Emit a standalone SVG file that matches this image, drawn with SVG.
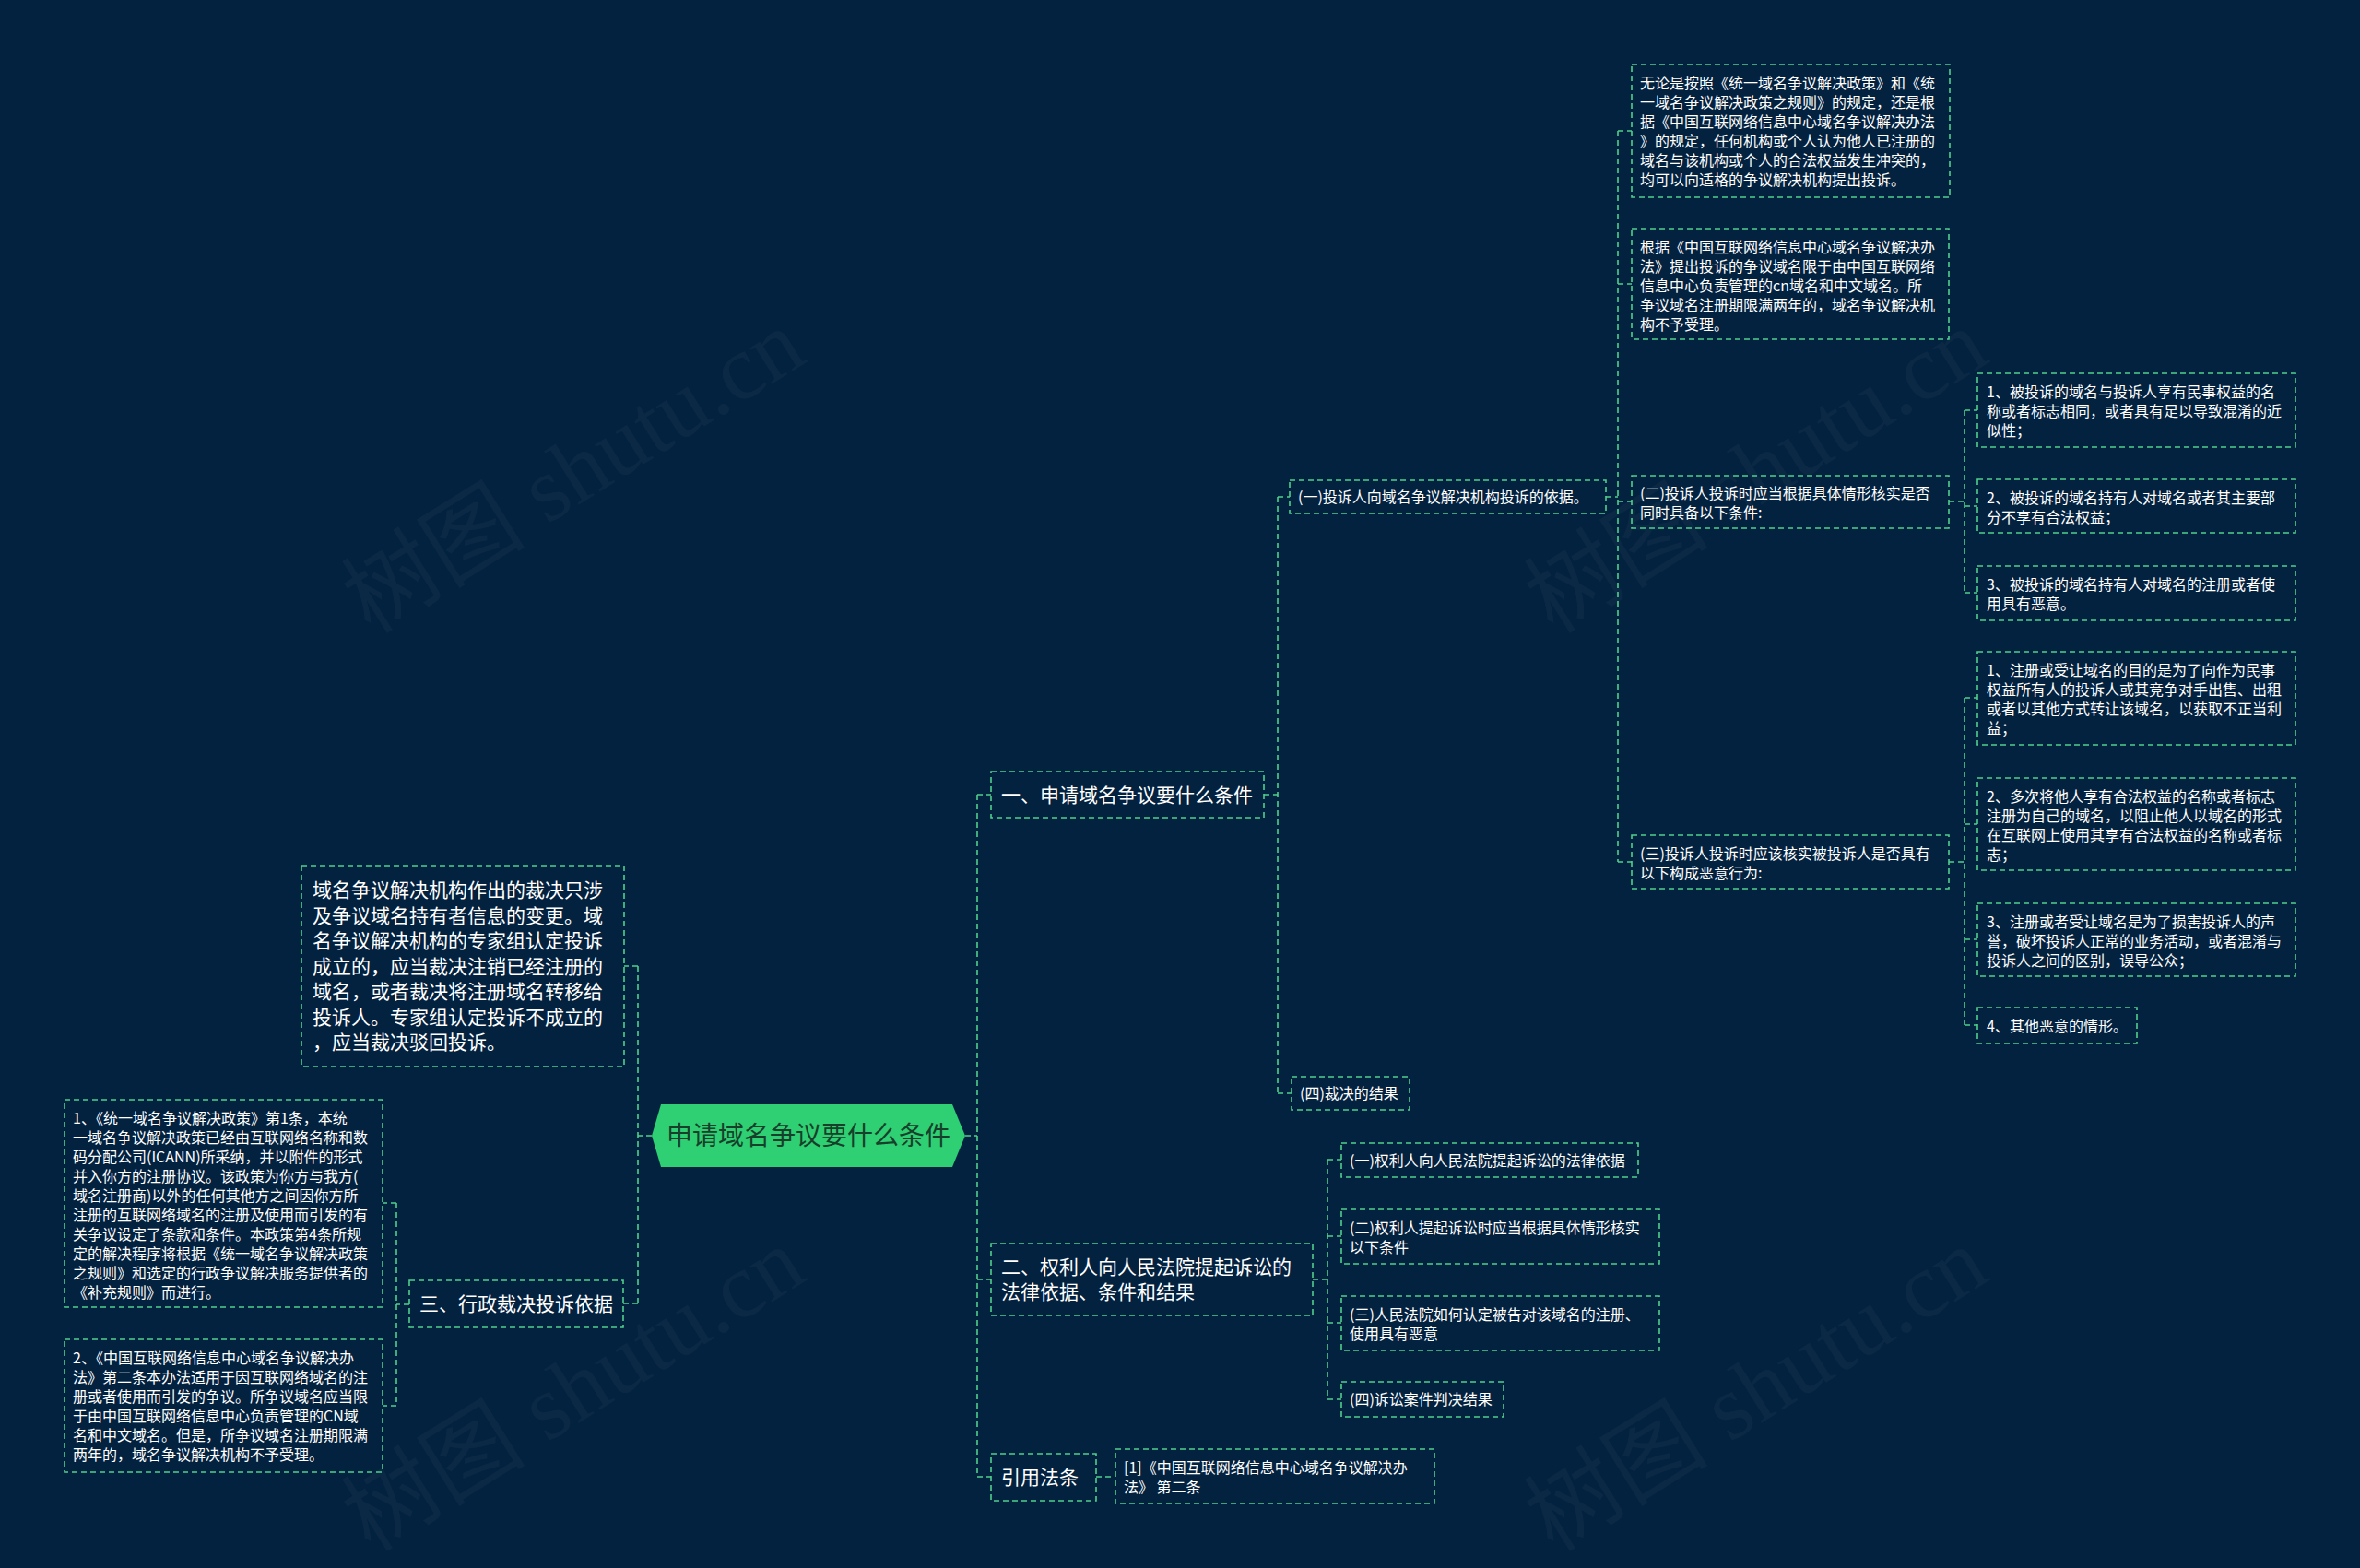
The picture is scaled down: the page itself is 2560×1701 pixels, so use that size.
<svg xmlns="http://www.w3.org/2000/svg" width="2560" height="1701" viewBox="0 0 2560 1701">
<defs>
<style>
.bg{fill:#03223f}
.box{fill:none;stroke:#4fd08c;stroke-width:1.6;stroke-dasharray:6 4}
.conn{fill:none;stroke:#4fd08c;stroke-width:1.6;stroke-dasharray:6 4}
.t16{font-family:"Noto Sans CJK SC","Noto Sans",sans-serif;font-size:16px;fill:#ffffff}
.t21{font-family:"Noto Sans CJK SC","Noto Sans",sans-serif;font-size:21px;fill:#ffffff}
.tc{font-family:"Noto Sans CJK SC","Noto Sans",sans-serif;font-size:28px;fill:#173f2a}
.wm{font-family:"Liberation Serif","Noto Sans CJK SC",serif;font-size:100px;fill:#ffffff;fill-opacity:0.035}
</style>
</defs>
<rect class="bg" x="0" y="0" width="2560" height="1701"/>
<g id="watermarks">
<text class="wm" text-anchor="middle" transform="translate(640,540) rotate(-32)">树图 shutu.cn</text>
<text class="wm" text-anchor="middle" transform="translate(1923,540) rotate(-32)">树图 shutu.cn</text>
<text class="wm" text-anchor="middle" transform="translate(640,1536) rotate(-32)">树图 shutu.cn</text>
<text class="wm" text-anchor="middle" transform="translate(1923,1536) rotate(-32)">树图 shutu.cn</text>
</g>
<g id="connectors">
<path class="conn" d="M1047 1232 H1060 M1060 862 V1602 M1060 862 H1075 M1060 1388 H1075 M1060 1602 H1075
M1371 862 H1386 M1386 539 V1186 M1386 539 H1399 M1386 1186 H1401
M1742 539 H1755 M1755 142 V935 M1755 142 H1770 M1755 308 H1770 M1755 544 H1770 M1755 935 H1770
M2114 544 H2131 M2131 445 V643 M2131 445 H2145 M2131 549 H2145 M2131 643 H2145
M2114 935 H2131 M2131 757 V1112 M2131 757 H2145 M2131 894 H2145 M2131 1019 H2145 M2131 1112 H2145
M1424 1388 H1440 M1440 1258 V1518 M1440 1258 H1455 M1440 1341 H1455 M1440 1435 H1455 M1440 1518 H1455
M1189 1602 H1210
M707 1232 H692 M692 1048 V1414 M692 1048 H677 M692 1414 H676
M444 1415 H430 M430 1305 V1525 M430 1305 H415 M430 1525 H415"/>
</g>
<g id="root">
<polygon points="707,1232 717,1198 1033,1198 1047,1232 1033,1266 717,1266" fill="#2fcf74"/>
<text class="tc" x="877" y="1242" text-anchor="middle">申请域名争议要什么条件</text>
</g>
<g id="n1">
<rect class="box" x="1075" y="837" width="296" height="50"/>
<text class="t21" x="1086" y="870">一、申请域名争议要什么条件</text>
</g>
<g id="n1-1">
<rect class="box" x="1399" y="521" width="343" height="36"/>
<text class="t16" x="1408" y="545">(一)投诉人向域名争议解决机构投诉的依据。</text>
</g>
<g id="n1-1-a">
<rect class="box" x="1770" y="70" width="345" height="144"/>
<text class="t16"><tspan x="1779" y="96">无论是按照《统一域名争议解决政策》和《统</tspan><tspan x="1779" y="117">一域名争议解决政策之规则》的规定，还是根</tspan><tspan x="1779" y="138">据《中国互联网络信息中心域名争议解决办法</tspan><tspan x="1779" y="159">》的规定，任何机构或个人认为他人已注册的</tspan><tspan x="1779" y="180">域名与该机构或个人的合法权益发生冲突的，</tspan><tspan x="1779" y="201">均可以向适格的争议解决机构提出投诉。</tspan></text>
</g>
<g id="n1-1-b">
<rect class="box" x="1770" y="248" width="344" height="120"/>
<text class="t16"><tspan x="1779" y="274">根据《中国互联网络信息中心域名争议解决办</tspan><tspan x="1779" y="295">法》提出投诉的争议域名限于由中国互联网络</tspan><tspan x="1779" y="316">信息中心负责管理的cn域名和中文域名。所</tspan><tspan x="1779" y="337">争议域名注册期限满两年的，域名争议解决机</tspan><tspan x="1779" y="358">构不予受理。</tspan></text>
</g>
<g id="n1-1-2">
<rect class="box" x="1770" y="516" width="344" height="57"/>
<text class="t16"><tspan x="1779" y="541">(二)投诉人投诉时应当根据具体情形核实是否</tspan><tspan x="1779" y="562">同时具备以下条件:</tspan></text>
</g>
<g id="n1-1-2-1">
<rect class="box" x="2145" y="405" width="345" height="80"/>
<text class="t16"><tspan x="2155" y="431">1、被投诉的域名与投诉人享有民事权益的名</tspan><tspan x="2155" y="452">称或者标志相同，或者具有足以导致混淆的近</tspan><tspan x="2155" y="473">似性；</tspan></text>
</g>
<g id="n1-1-2-2">
<rect class="box" x="2145" y="520" width="345" height="58"/>
<text class="t16"><tspan x="2155" y="546">2、被投诉的域名持有人对域名或者其主要部</tspan><tspan x="2155" y="567">分不享有合法权益；</tspan></text>
</g>
<g id="n1-1-2-3">
<rect class="box" x="2145" y="614" width="345" height="59"/>
<text class="t16"><tspan x="2155" y="640">3、被投诉的域名持有人对域名的注册或者使</tspan><tspan x="2155" y="661">用具有恶意。</tspan></text>
</g>
<g id="n1-1-3">
<rect class="box" x="1770" y="906" width="344" height="58"/>
<text class="t16"><tspan x="1779" y="932">(三)投诉人投诉时应该核实被投诉人是否具有</tspan><tspan x="1779" y="953">以下构成恶意行为:</tspan></text>
</g>
<g id="n1-1-3-1">
<rect class="box" x="2145" y="707" width="345" height="101"/>
<text class="t16"><tspan x="2155" y="733">1、注册或受让域名的目的是为了向作为民事</tspan><tspan x="2155" y="754">权益所有人的投诉人或其竞争对手出售、出租</tspan><tspan x="2155" y="775">或者以其他方式转让该域名，以获取不正当利</tspan><tspan x="2155" y="796">益；</tspan></text>
</g>
<g id="n1-1-3-2">
<rect class="box" x="2145" y="844" width="345" height="100"/>
<text class="t16"><tspan x="2155" y="870">2、多次将他人享有合法权益的名称或者标志</tspan><tspan x="2155" y="891">注册为自己的域名，以阻止他人以域名的形式</tspan><tspan x="2155" y="912">在互联网上使用其享有合法权益的名称或者标</tspan><tspan x="2155" y="933">志；</tspan></text>
</g>
<g id="n1-1-3-3">
<rect class="box" x="2145" y="980" width="345" height="79"/>
<text class="t16"><tspan x="2155" y="1006">3、注册或者受让域名是为了损害投诉人的声</tspan><tspan x="2155" y="1027">誉，破坏投诉人正常的业务活动，或者混淆与</tspan><tspan x="2155" y="1048">投诉人之间的区别，误导公众；</tspan></text>
</g>
<g id="n1-1-3-4">
<rect class="box" x="2145" y="1093" width="173" height="39"/>
<text class="t16" x="2155" y="1119">4、其他恶意的情形。</text>
</g>
<g id="n1-4">
<rect class="box" x="1401" y="1168" width="128" height="36"/>
<text class="t16" x="1410" y="1192">(四)裁决的结果</text>
</g>
<g id="n2">
<rect class="box" x="1075" y="1349" width="349" height="78"/>
<text class="t21"><tspan x="1086" y="1382">二、权利人向人民法院提起诉讼的</tspan><tspan x="1086" y="1409">法律依据、条件和结果</tspan></text>
</g>
<g id="n2-1">
<rect class="box" x="1455" y="1240" width="322" height="37"/>
<text class="t16" x="1464" y="1265">(一)权利人向人民法院提起诉讼的法律依据</text>
</g>
<g id="n2-2">
<rect class="box" x="1455" y="1312" width="345" height="59"/>
<text class="t16"><tspan x="1464" y="1338">(二)权利人提起诉讼时应当根据具体情形核实</tspan><tspan x="1464" y="1359">以下条件</tspan></text>
</g>
<g id="n2-3">
<rect class="box" x="1455" y="1406" width="345" height="59"/>
<text class="t16"><tspan x="1464" y="1432">(三)人民法院如何认定被告对该域名的注册、</tspan><tspan x="1464" y="1453">使用具有恶意</tspan></text>
</g>
<g id="n2-4">
<rect class="box" x="1455" y="1499" width="176" height="38"/>
<text class="t16" x="1464" y="1524">(四)诉讼案件判决结果</text>
</g>
<g id="n3">
<rect class="box" x="1075" y="1577" width="114" height="51"/>
<text class="t21" x="1086" y="1610">引用法条</text>
</g>
<g id="n3-1">
<rect class="box" x="1210" y="1572" width="346" height="59"/>
<text class="t16"><tspan x="1219" y="1598">[1]《中国互联网络信息中心域名争议解决办</tspan><tspan x="1219" y="1619">法》 第二条</tspan></text>
</g>
<g id="nL1">
<rect class="box" x="327" y="939" width="350" height="218"/>
<text class="t21"><tspan x="339" y="973">域名争议解决机构作出的裁决只涉</tspan><tspan x="339" y="1000.5">及争议域名持有者信息的变更。域</tspan><tspan x="339" y="1028">名争议解决机构的专家组认定投诉</tspan><tspan x="339" y="1055.5">成立的，应当裁决注销已经注册的</tspan><tspan x="339" y="1083">域名，或者裁决将注册域名转移给</tspan><tspan x="339" y="1110.5">投诉人。专家组认定投诉不成立的</tspan><tspan x="339" y="1138">，应当裁决驳回投诉。</tspan></text>
</g>
<g id="nL2">
<rect class="box" x="444" y="1389" width="232" height="51"/>
<text class="t21" x="455" y="1422">三、行政裁决投诉依据</text>
</g>
<g id="nL2-1">
<rect class="box" x="70" y="1193" width="345" height="225"/>
<text class="t16"><tspan x="79" y="1219">1、《统一域名争议解决政策》第1条，本统</tspan><tspan x="79" y="1240">一域名争议解决政策已经由互联网络名称和数</tspan><tspan x="79" y="1261">码分配公司(ICANN)所采纳，并以附件的形式</tspan><tspan x="79" y="1282">并入你方的注册协议。该政策为你方与我方(</tspan><tspan x="79" y="1303">域名注册商)以外的任何其他方之间因你方所</tspan><tspan x="79" y="1324">注册的互联网络域名的注册及使用而引发的有</tspan><tspan x="79" y="1345">关争议设定了条款和条件。本政策第4条所规</tspan><tspan x="79" y="1366">定的解决程序将根据《统一域名争议解决政策</tspan><tspan x="79" y="1387">之规则》和选定的行政争议解决服务提供者的</tspan><tspan x="79" y="1408">《补充规则》而进行。</tspan></text>
</g>
<g id="nL2-2">
<rect class="box" x="70" y="1453" width="345" height="144"/>
<text class="t16"><tspan x="79" y="1479">2、《中国互联网络信息中心域名争议解决办</tspan><tspan x="79" y="1500">法》第二条本办法适用于因互联网络域名的注</tspan><tspan x="79" y="1521">册或者使用而引发的争议。所争议域名应当限</tspan><tspan x="79" y="1542">于由中国互联网络信息中心负责管理的CN域</tspan><tspan x="79" y="1563">名和中文域名。但是，所争议域名注册期限满</tspan><tspan x="79" y="1584">两年的，域名争议解决机构不予受理。</tspan></text>
</g>
</svg>
